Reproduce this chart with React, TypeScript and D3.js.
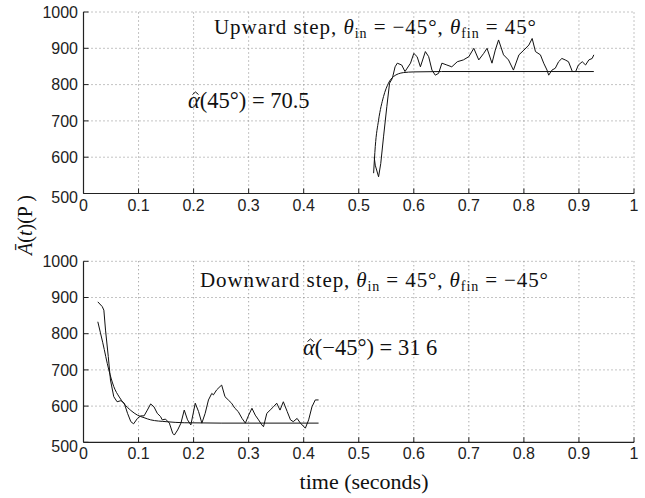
import React from 'react';
import * as d3 from 'd3';

// axis ticks
const xTicks = [0, 0.1, 0.2, 0.3, 0.4, 0.5, 0.6, 0.7, 0.8, 0.9, 1];
const yTicks = [500, 600, 700, 800, 900, 1000];

// upward step: measured A(t) and fitted exponential
const upSignal: [number, number][] = [
  [0.528, 601], [0.530, 578], [0.536, 546], [0.540, 583], [0.545, 656], [0.551, 739],
  [0.556, 804], [0.561, 817], [0.566, 849], [0.570, 859], [0.578, 854], [0.584, 836],
  [0.594, 859], [0.600, 886], [0.606, 877], [0.612, 849], [0.621, 891], [0.627, 877],
  [0.633, 840], [0.639, 826], [0.645, 831], [0.651, 859], [0.660, 854], [0.669, 849],
  [0.679, 863], [0.690, 868], [0.700, 877], [0.709, 900], [0.718, 868], [0.727, 886],
  [0.733, 900], [0.742, 859], [0.748, 895], [0.754, 923], [0.763, 882], [0.772, 868],
  [0.781, 840], [0.791, 882], [0.800, 895], [0.809, 909], [0.815, 927], [0.821, 891],
  [0.830, 882], [0.836, 859], [0.842, 840], [0.845, 826], [0.851, 840], [0.857, 845],
  [0.863, 863], [0.869, 872], [0.875, 868], [0.881, 863], [0.888, 836], [0.894, 836],
  [0.899, 854], [0.906, 863], [0.912, 854], [0.918, 868], [0.924, 872], [0.927, 882],
];
const upFit: [number, number][] = [
  [0.527, 556], [0.530, 629], [0.536, 702], [0.545, 767], [0.554, 804], [0.563, 822],
  [0.581, 833], [0.600, 835], [0.650, 836], [0.927, 836],
];

// downward step
const downSignal: [number, number][] = [
  [0.026, 888], [0.034, 875], [0.037, 865], [0.040, 810], [0.045, 737], [0.049, 672],
  [0.055, 626], [0.061, 612], [0.068, 615], [0.074, 608], [0.080, 580], [0.086, 557],
  [0.091, 551], [0.098, 566], [0.104, 573], [0.110, 573], [0.116, 589], [0.122, 606],
  [0.128, 598], [0.134, 580], [0.140, 571], [0.143, 562], [0.149, 564], [0.156, 553],
  [0.162, 525], [0.165, 520], [0.171, 534], [0.177, 553], [0.183, 589], [0.189, 562],
  [0.195, 548], [0.203, 608], [0.209, 585], [0.215, 553], [0.221, 580], [0.227, 617],
  [0.233, 635], [0.236, 631], [0.242, 645], [0.248, 654], [0.251, 658], [0.257, 626],
  [0.263, 617], [0.269, 608], [0.275, 594], [0.281, 585], [0.288, 566], [0.294, 553],
  [0.300, 575], [0.306, 594], [0.312, 575], [0.318, 562], [0.324, 548], [0.327, 543],
  [0.333, 580], [0.339, 589], [0.345, 598], [0.351, 608], [0.357, 589], [0.363, 612],
  [0.370, 585], [0.376, 562], [0.381, 557], [0.388, 566], [0.394, 553], [0.403, 539],
  [0.409, 562], [0.415, 598], [0.421, 617], [0.427, 617],
];
const downFit: [number, number][] = [
  [0.026, 833], [0.035, 775], [0.046, 700], [0.055, 654], [0.065, 625], [0.074, 606],
  [0.086, 588], [0.098, 575], [0.110, 568], [0.122, 562], [0.150, 557], [0.183, 554],
  [0.250, 553], [0.427, 553],
];

const serif = { fontFamily: '"Liberation Serif", serif' };
const sans = { fontFamily: '"Liberation Sans", Arial, sans-serif' };

const x = d3.scaleLinear().domain([0, 1]).range([83.5, 634]);

function Panel(props: { top: number; bottom: number; signal: [number, number][]; fit: [number, number][]; children?: React.ReactNode }) {
  const y = d3.scaleLinear().domain([500, 1000]).range([props.bottom, props.top]);
  const line = d3.line<[number, number]>().x(d => x(d[0])).y(d => y(d[1]));
  const fitLine = d3.line<[number, number]>().x(d => x(d[0])).y(d => y(d[1])).curve(d3.curveMonotoneX);
  return (
    <g>
      {xTicks.filter(t => t > 0).map(t =>
        <line key={'gx' + t} x1={x(t)} x2={x(t)} y1={y(500)} y2={y(1000)} stroke="#888" strokeWidth={1} strokeDasharray="1,3" />
      )}
      {yTicks.filter(t => t > 500).map(t =>
        <line key={'gy' + t} x1={x(0)} x2={x(1)} y1={y(t)} y2={y(t)} stroke="#888" strokeWidth={1} strokeDasharray="1,3" />
      )}
      <line x1={x(0)} x2={x(1)} y1={y(500)} y2={y(500)} stroke="#222" strokeWidth={1.2} />
      <line x1={x(0)} x2={x(0)} y1={y(500)} y2={y(1000)} stroke="#222" strokeWidth={1.2} />
      {xTicks.map(t =>
        <g key={'tx' + t}>
          <line x1={x(t)} x2={x(t)} y1={y(500)} y2={y(500) - 5} stroke="#222" />
          <text x={x(t)} y={y(500) + 17} style={sans} fontSize={16} textAnchor="middle" fill="#222">{String(t)}</text>
        </g>
      )}
      {yTicks.map(t =>
        <g key={'ty' + t}>
          <line x1={x(0)} x2={x(0) + 5} y1={y(t)} y2={y(t)} stroke="#222" />
          <text x={78} y={y(t)} dy={t === 500 ? '0.62em' : '0.35em'} style={sans} fontSize={16} textAnchor="end" fill="#222">{t}</text>
        </g>
      )}
      <path d={fitLine(props.fit) || ''} fill="none" stroke="#111" strokeWidth={1} />
      <path d={line(props.signal) || ''} fill="none" stroke="#111" strokeWidth={1} />
      {props.children}
    </g>
  );
}

function Theta(props: { sub: string }) {
  return (
    <>
      <tspan fontStyle="italic">θ</tspan>
      <tspan dy={4} fontSize={14}>{props.sub}</tspan>
      <tspan dy={-4}> </tspan>
    </>
  );
}

// α with a hat; the hat is a small stroked chevron
function AlphaHat(props: { x: number; y: number; rest: string }) {
  const hx = props.x + 7.5;
  const hy = props.y - 16;
  return (
    <g>
      <path d={`M${hx - 3},${hy + 2.5}L${hx},${hy}L${hx + 3},${hy + 2.5}`} fill="none" stroke="#111" strokeWidth={1} />
      <text x={props.x} y={props.y} style={serif} fontSize={22.5} fill="#111">
        <tspan fontStyle="italic">α</tspan>{props.rest}
      </text>
    </g>
  );
}

export default function App() {
  return (
    <svg width={645} height={498} style={{ display: 'block', position: 'absolute', left: 0, top: 0, background: '#fff' }}>
      <Panel top={12} bottom={193.5} signal={upSignal} fit={upFit}>
        <text x={214} y={34} style={serif} fontSize={21} fill="#111" textLength={322} lengthAdjust="spacing">
          Upward step, <Theta sub="in" />= −45°, <Theta sub="fin" />= 45°
        </text>
        <AlphaHat x={188} y={108} rest="(45°) = 70.5" />
      </Panel>
      <Panel top={261.3} bottom={442.3} signal={downSignal} fit={downFit}>
        <text x={200} y={287} style={serif} fontSize={21} fill="#111" textLength={348} lengthAdjust="spacing">
          Downward step, <Theta sub="in" />= 45°, <Theta sub="fin" />= −45°
        </text>
        <AlphaHat x={303} y={355} rest="(−45°) = 31 6" />
      </Panel>
      <text x={364} y={489} style={serif} fontSize={22} textAnchor="middle" fill="#111">time (seconds)</text>
      <text transform="translate(32,225) rotate(-90)" style={serif} fontSize={20} textAnchor="middle" fill="#111">
        <tspan fontStyle="italic">Ā</tspan>(<tspan fontStyle="italic">t</tspan>)(P )
      </text>
    </svg>
  );
}
